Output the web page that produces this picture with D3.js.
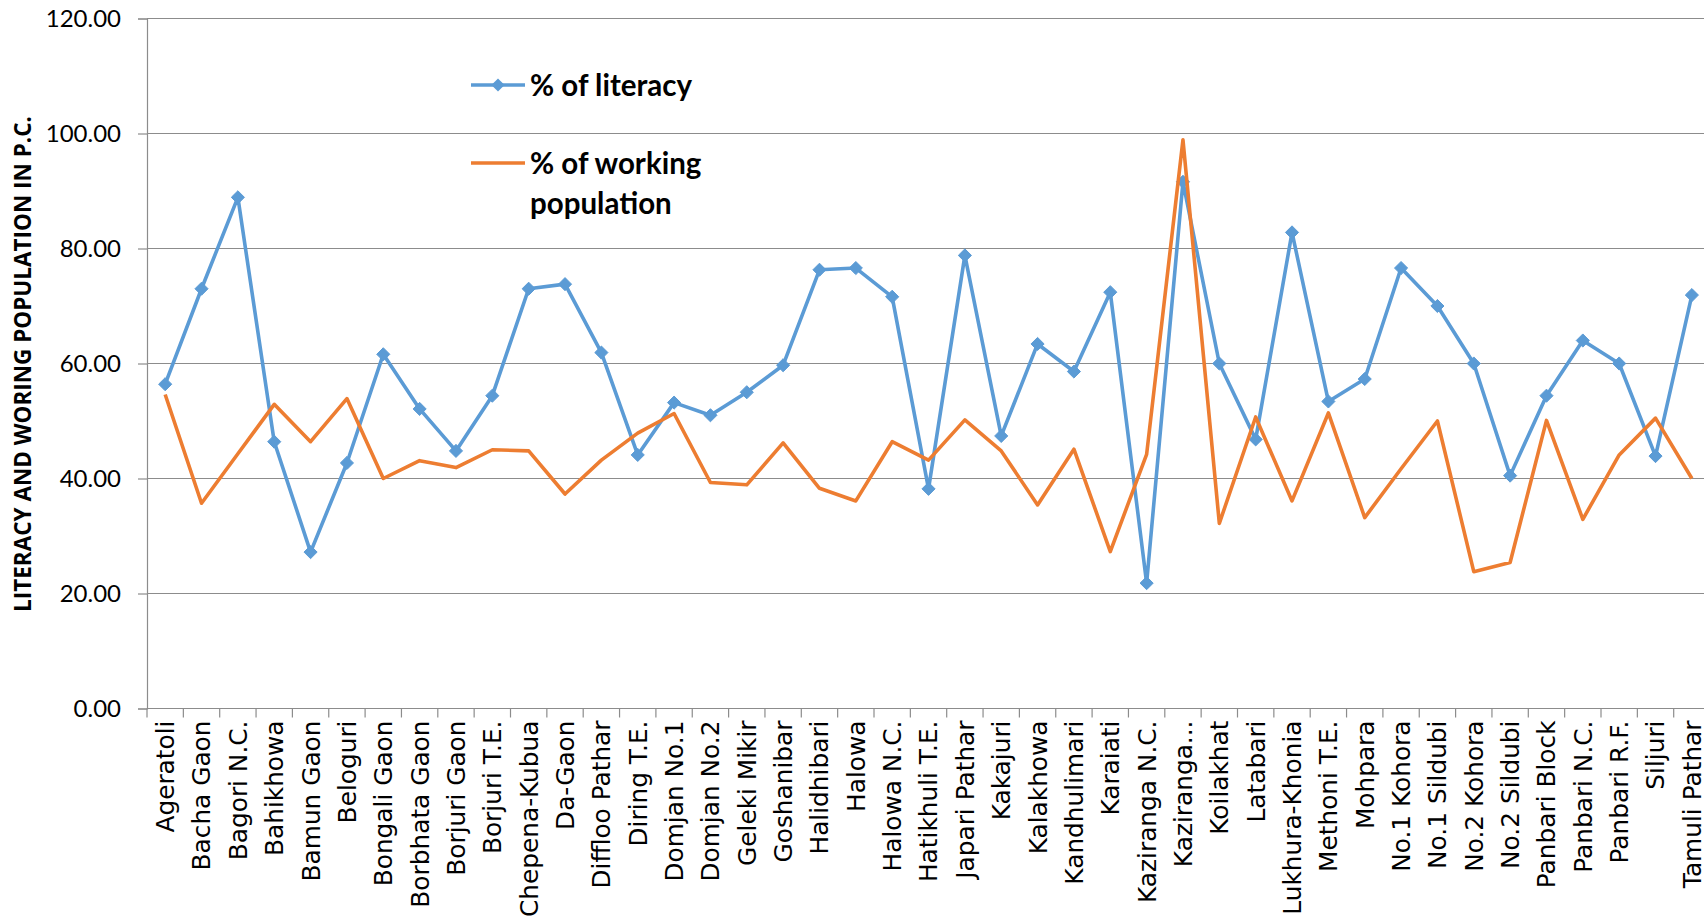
<!DOCTYPE html>
<html>
<head>
<meta charset="utf-8">
<script src="https://cdn.jsdelivr.net/npm/d3@7/dist/d3.min.js"></script>
<style>
  html, body { margin: 0; padding: 0; background: #ffffff; overflow: hidden; }
  svg { display: block; }
</style>
</head>
<body>
<svg id="chart" width="1704" height="919"></svg>
<script>
// Villages (category axis)
const villages = [
  "Ageratoli", "Bacha Gaon", "Bagori N.C.", "Bahikhowa", "Bamun Gaon", "Beloguri",
  "Bongali Gaon", "Borbhata Gaon", "Borjuri Gaon", "Borjuri T.E.", "Chepena-Kubua",
  "Da-Gaon", "Diffloo Pathar", "Diring T.E.", "Domjan No.1", "Domjan No.2",
  "Geleki Mikir", "Goshanibar", "Halidhibari", "Halowa", "Halowa N.C.",
  "Hatikhuli T.E.", "Japari Pathar", "Kakajuri", "Kalakhowa", "Kandhulimari",
  "Karaiati", "Kaziranga N.C.", "Kaziranga...", "Koilakhat", "Latabari",
  "Lukhura-Khonia", "Methoni T.E.", "Mohpara", "No.1 Kohora", "No.1 Sildubi",
  "No.2 Kohora", "No.2 Sildubi", "Panbari Block", "Panbari N.C.", "Panbari R.F.",
  "Siljuri", "Tamuli Pathar"
];

// % of literacy
const literacy = [
  56.4, 73.0, 88.9, 46.4, 27.2, 42.7,
  61.6, 52.1, 44.8, 54.4, 73.0,
  73.8, 61.9, 44.1, 53.2, 51.0,
  55.0, 59.7, 76.3, 76.6, 71.6,
  38.2, 78.8, 47.4, 63.4, 58.6,
  72.4, 21.8, 91.6, 60.0, 46.8,
  82.8, 53.4, 57.3, 76.6, 70.0,
  60.0, 40.5, 54.4, 64.0, 60.0,
  43.9, 71.9
];

// % of working population
const working = [
  54.6, 35.7, 44.3, 52.9, 46.4, 53.9,
  40.0, 43.1, 41.9, 45.0, 44.8,
  37.3, 43.2, 47.9, 51.3, 39.3,
  38.9, 46.2, 38.3, 36.1, 46.4,
  43.2, 50.2, 44.8, 35.4, 45.1,
  27.3, 44.2, 98.9, 32.2, 50.7,
  36.1, 51.4, 33.2, 41.7, 50.0,
  23.8, 25.4, 50.1, 32.9, 44.1,
  50.5, 40.0
];

const yTicks = [0, 20, 40, 60, 80, 100, 120];

const seriesNames = ["% of literacy", "% of working population"];
const colors = { literacy: "#5b9bd5", working: "#ed7d31" };

const svg = d3.select("#chart");

// plot area (the category axis runs slightly past the right edge of the page)
const plotLeft = 147, plotTop = 18.5, plotBottom = 708.5, bandW = 36.35;
const plotRight = plotLeft + bandW * villages.length;

const x = d3.scaleBand().domain(villages).range([plotLeft, plotRight]).padding(0);
const y = d3.scaleLinear().domain([0, 120]).range([plotBottom, plotTop]);
const cx = d => x(d) + x.bandwidth() / 2;

const gridColor = "#8c8c8c";

// horizontal gridlines
svg.append("g")
  .selectAll("line")
  .data(yTicks.filter(t => t > 0))
  .join("line")
  .attr("x1", plotLeft).attr("x2", plotRight)
  .attr("y1", d => y(d)).attr("y2", d => y(d))
  .attr("stroke", gridColor).attr("stroke-width", 1.2);

// value axis
const yAxis = svg.append("g")
  .attr("transform", `translate(${plotLeft},0)`)
  .call(d3.axisLeft(y).tickValues(yTicks).tickFormat(d3.format(".2f")).tickSize(9).tickPadding(17));
yAxis.select(".domain").attr("stroke", gridColor).attr("stroke-width", 1.2);
yAxis.selectAll(".tick line").attr("stroke", gridColor).attr("stroke-width", 1.2);
yAxis.selectAll(".tick text")
  .attr("font-family", "Lato, 'Open Sans', sans-serif")
  .attr("font-size", 24)
  .attr("fill", "#000");

// category axis: labels at band centres, tick marks at band edges
const xAxis = svg.append("g")
  .attr("transform", `translate(0,${plotBottom})`)
  .call(d3.axisBottom(x).tickSize(0).tickPadding(0));
xAxis.select(".domain").remove();
xAxis.append("line")
  .attr("x1", plotLeft).attr("x2", plotRight)
  .attr("stroke", gridColor).attr("stroke-width", 1.2);
xAxis.selectAll(".edge")
  .data(villages.concat([null]))
  .join("line")
  .attr("class", "edge")
  .attr("x1", d => d === null ? plotRight : x(d))
  .attr("x2", d => d === null ? plotRight : x(d))
  .attr("y1", 0).attr("y2", 9)
  .attr("stroke", gridColor).attr("stroke-width", 1.2);
xAxis.selectAll(".tick text")
  .attr("font-family", "'DejaVu Sans', sans-serif")
  .attr("font-size", 24.8)
  .attr("fill", "#000")
  .attr("text-anchor", "end")
  .attr("dy", "0.36em")
  .attr("transform", "translate(0,12) rotate(-90)");

// value axis title
svg.append("text")
  .attr("transform", "translate(31,364) rotate(-90)")
  .attr("text-anchor", "middle")
  .attr("font-family", "'Open Sans', sans-serif")
  .attr("font-weight", "bold")
  .attr("font-size", 22.5)
  .attr("fill", "#000")
  .text("LITERACY AND WORING POPULATION IN P.C.");

// series lines
const line = d3.line().x((d, i) => cx(villages[i])).y(d => y(d));

svg.append("path")
  .datum(literacy)
  .attr("d", line)
  .attr("fill", "none")
  .attr("stroke", colors.literacy)
  .attr("stroke-width", 3.6)
  .attr("stroke-linejoin", "round");

const diamond = d3.symbol().type(d3.symbolDiamond2).size(110);
svg.append("g")
  .selectAll("path")
  .data(literacy)
  .join("path")
  .attr("transform", (d, i) => `translate(${cx(villages[i])},${y(d)})`)
  .attr("d", diamond)
  .attr("fill", colors.literacy)
  .attr("stroke", colors.literacy)
  .attr("stroke-width", 1);

svg.append("path")
  .datum(working)
  .attr("d", line)
  .attr("fill", "none")
  .attr("stroke", colors.working)
  .attr("stroke-width", 3.6)
  .attr("stroke-linejoin", "round");

// legend
const legend = svg.append("g")
  .attr("font-family", "Lato, 'Open Sans', sans-serif")
  .attr("font-weight", "bold")
  .attr("font-size", 29.5)
  .attr("fill", "#000");

legend.append("line")
  .attr("x1", 471).attr("x2", 525).attr("y1", 85).attr("y2", 85)
  .attr("stroke", colors.literacy).attr("stroke-width", 3.6);
legend.append("path")
  .attr("transform", "translate(498,85)")
  .attr("d", diamond)
  .attr("fill", colors.literacy);
legend.append("text")
  .attr("x", 530).attr("y", 86).attr("dy", "0.35em")
  .text(seriesNames[0]);

legend.append("line")
  .attr("x1", 471).attr("x2", 525).attr("y1", 163).attr("y2", 163)
  .attr("stroke", colors.working).attr("stroke-width", 3.6);
const wText = legend.append("text")
  .attr("x", 530).attr("y", 163.5).attr("dy", "0.35em");
wText.append("tspan").attr("x", 530).text("% of working");
wText.append("tspan").attr("x", 530).attr("dy", 40).text("population");
</script>
</body>
</html>
